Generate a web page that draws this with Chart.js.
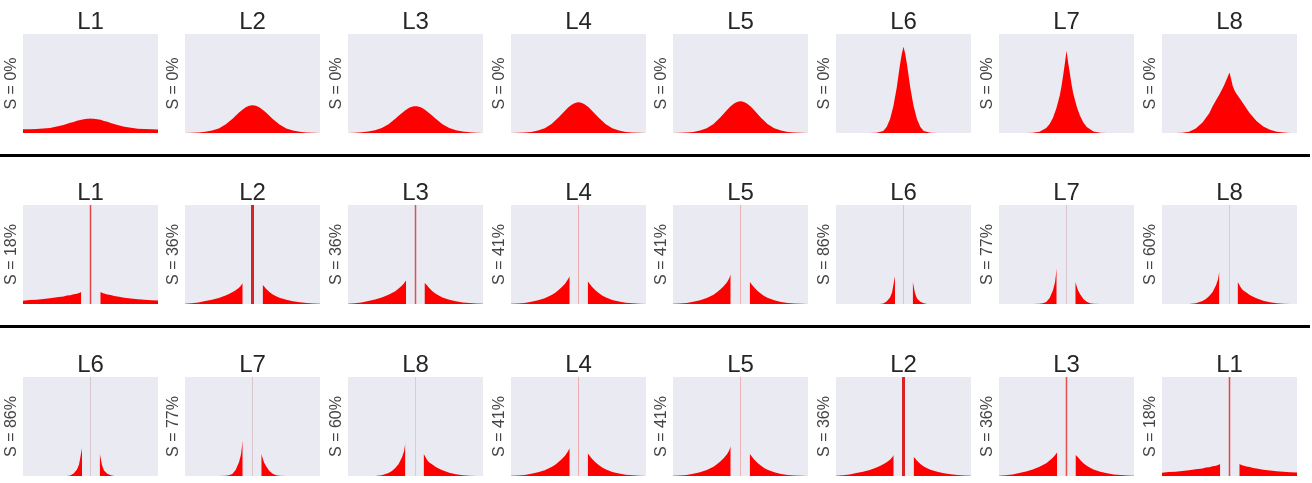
<!DOCTYPE html>
<html>
<head>
<meta charset="utf-8">
<script src="https://cdn.jsdelivr.net/npm/chart.js@4/dist/chart.umd.min.js"></script>
<style>
  body { margin: 0; background: #fff; }
  #page { position: relative; width: 1312px; height: 483px; overflow: hidden; background: #fff; }
  .panel { position: absolute; }
  .rule { position: absolute; left: 0; width: 1310px; height: 3px; background: #000; }
</style>
</head>
<body>
<div id="page">
  <div class="rule" style="top:154px"></div>
  <div class="rule" style="top:325px"></div>
</div>
<script>
// histogram bins, top row (no pruning)
const topX = [-1, -0.9, -0.8, -0.7, -0.6, -0.5, -0.4, -0.3, -0.25, -0.2, -0.15, -0.1, -0.075, -0.05, -0.025,
  0, 0.025, 0.05, 0.075, 0.1, 0.15, 0.2, 0.25, 0.3, 0.4, 0.5, 0.6, 0.7, 0.8, 0.9, 1];

const topL1 = [.037, .039, .041, .045, .051, .065, .080, .104, .112, .124, .131, .140, .141, .144, .143,
  .147, .144, .143, .141, .138, .133, .122, .114, .102, .082, .063, .053, .043, .041, .037, .036];
const topL2 = [.001, .003, .006, .012, .024, .046, .085, .141, .174, .206, .236, .260, .268, .275, .279,
  .280, .279, .275, .268, .260, .236, .206, .174, .141, .085, .046, .024, .012, .006, .003, .001];
const topL3 = [.001, .003, .007, .014, .027, .050, .088, .143, .173, .203, .230, .252, .259, .265, .269,
  .270, .269, .265, .259, .252, .230, .203, .173, .143, .088, .050, .027, .014, .007, .003, .001];
const topL4 = [.001, .002, .005, .011, .024, .048, .090, .153, .190, .226, .259, .286, .296, .304, .309,
  .310, .309, .304, .296, .286, .259, .226, .190, .153, .090, .048, .024, .011, .005, .002, .001];
const topL5 = [.001, .002, .005, .011, .024, .049, .092, .157, .195, .233, .267, .295, .306, .314, .319,
  .320, .319, .314, .306, .295, .267, .233, .195, .157, .092, .049, .024, .011, .005, .002, .001];
const topL6 = [0, 0, 0, 0, 0, 0, .003, .020, .060, .140, .270, .460, .580, .700, .800,
  .870, .800, .700, .580, .460, .270, .140, .060, .020, .003, 0, 0, 0, 0, 0, 0];
const topL7 = [0, 0, 0, 0, 0, .002, .012, .050, .090, .155, .250, .380, .470, .580, .700,
  .830, .710, .600, .490, .400, .270, .175, .105, .060, .015, .003, 0, 0, 0, 0, 0];
const topL8 = [0, 0, 0, .002, .012, .045, .105, .200, .270, .330, .390, .455, .490, .530, .570,
  .610, .540, .470, .430, .400, .350, .300, .250, .200, .120, .065, .032, .013, .004, .001, 0];

// pruned histograms (gap around zero, null = gap)
const cutX_L1 = [-1, -.9, -.8, -.7, -.6, -.5, -.4, -.35, -.3, -.25, -.2, -.17, -.137, 0, .145, .17, .2, .25, .3, .35, .4, .5, .6, .7, .8, .9, 1];
const cutY_L1 = [.034, .041, .044, .051, .057, .068, .077, .086, .089, .098, .104, .112, .120, null, .121, .113, .107, .097, .092, .082, .077, .064, .056, .047, .043, .037, .035];
const cutX_L2 = [-1, -.9, -.8, -.7, -.6, -.5, -.4, -.35, -.3, -.25, -.2, -.17, -.145, 0, .15, .17, .2, .25, .3, .35, .4, .5, .6, .7, .8, .9, 1];
const cutY_L2 = [.003, .008, .016, .030, .044, .060, .085, .100, .118, .140, .165, .188, .212, null, .195, .180, .155, .120, .095, .078, .063, .042, .027, .017, .010, .005, .002];
const cutX_L3 = [-1, -.9, -.8, -.7, -.6, -.5, -.4, -.35, -.3, -.25, -.2, -.17, -.138, 0, .133, .17, .2, .25, .3, .35, .4, .5, .6, .7, .8, .9, 1];
const cutY_L3 = [.003, .008, .016, .030, .046, .065, .093, .110, .130, .156, .186, .210, .240, null, .215, .190, .165, .130, .103, .083, .066, .043, .027, .016, .009, .004, .002];
const cutX_L4 = [-1, -.9, -.8, -.7, -.6, -.5, -.4, -.35, -.3, -.25, -.2, -.17, -.13, 0, .136, .17, .2, .25, .3, .35, .4, .5, .6, .7, .8, .9, 1];
const cutY_L4 = [.002, .005, .011, .022, .038, .058, .090, .112, .138, .168, .205, .235, .280, null, .230, .200, .175, .140, .110, .087, .068, .041, .024, .013, .007, .003, .001];
const cutX_L5 = [-1, -.9, -.8, -.7, -.6, -.5, -.4, -.35, -.3, -.25, -.2, -.17, -.145, 0, .136, .17, .2, .25, .3, .35, .4, .5, .6, .7, .8, .9, 1];
const cutY_L5 = [.002, .005, .011, .022, .038, .060, .094, .118, .146, .180, .220, .255, .300, null, .225, .195, .170, .135, .105, .082, .063, .037, .021, .011, .005, .002, .001];
const cutX_L6 = [-1, -.9, -.8, -.7, -.6, -.5, -.4, -.35, -.3, -.25, -.2, -.17, -.126, 0, .136, .17, .2, .25, .3, .35, .4, .5, .6, .7, .8, .9, 1];
const cutY_L6 = [0, 0, 0, 0, 0, 0, 0, 0, .005, .025, .065, .115, .280, null, .230, .110, .055, .022, .007, 0, 0, 0, 0, 0, 0, 0, 0];
const cutX_L7 = [-1, -.9, -.8, -.7, -.6, -.5, -.4, -.35, -.3, -.25, -.2, -.17, -.145, 0, .13, .17, .2, .25, .3, .35, .4, .5, .6, .7, .8, .9, 1];
const cutY_L7 = [0, 0, 0, 0, 0, 0, .003, .008, .020, .060, .140, .220, .360, null, .225, .140, .100, .050, .022, .008, .002, 0, 0, 0, 0, 0, 0];
const cutX_L8 = [-1, -.9, -.8, -.7, -.6, -.5, -.4, -.35, -.3, -.25, -.2, -.17, -.15, 0, .12, .17, .2, .25, .3, .35, .4, .5, .6, .7, .8, .9, 1];
const cutY_L8 = [0, 0, 0, 0, 0, .008, .030, .050, .080, .120, .190, .250, .335, null, .225, .165, .140, .115, .092, .074, .058, .034, .018, .007, .002, 0, 0];

// zero bin, clipped at the top of every pruned panel
const spikeX = [0, 0];
const spikeY = [0, 1.5];

const names = ['L1', 'L2', 'L3', 'L4', 'L5', 'L6', 'L7', 'L8'];
const sparsity = ['S = 18%', 'S = 36%', 'S = 36%', 'S = 41%', 'S = 41%', 'S = 86%', 'S = 77%', 'S = 60%'];
const bottomOrder = [5, 6, 7, 3, 4, 1, 2, 0];

const topSeries = [topL1, topL2, topL3, topL4, topL5, topL6, topL7, topL8];
const cutXs = [cutX_L1, cutX_L2, cutX_L3, cutX_L4, cutX_L5, cutX_L6, cutX_L7, cutX_L8];
const cutYs = [cutY_L1, cutY_L2, cutY_L3, cutY_L4, cutY_L5, cutY_L6, cutY_L7, cutY_L8];

// look of the zero spike
const spikeColor = ['rgba(228,40,40,0.85)', 'rgba(215,25,25,0.95)', 'rgba(228,40,40,0.8)', 'rgba(240,130,130,0.6)',
  'rgba(240,130,130,0.55)', 'rgba(205,175,180,0.6)', 'rgba(205,175,180,0.6)', 'rgba(240,160,160,0.5)'];
const spikeWidth = [1.5, 3, 1.5, 1, 1, 1, 1, 1];

const colLeft = [23, 185, 348, 511, 673, 836, 999, 1162];
const rowTop = [34, 205, 377];
const plotW = 135, plotH = 99, axisW = 22, titleH = 28;
const FONT = "'Liberation Sans', Arial, sans-serif";

const panelBg = {
  id: 'panelBg',
  beforeDraw(chart) {
    const { ctx, chartArea: a } = chart;
    ctx.save();
    ctx.fillStyle = '#EAEAF2';
    ctx.fillRect(a.left, a.top, a.right - a.left, a.bottom - a.top);
    ctx.restore();
  }
};

function toPoints(xs, ys) {
  return xs.map((x, i) => ({ x: x, y: ys[i] }));
}

function makePanel(left, top, title, label, xs, ys, spike) {
  const wrap = document.createElement('div');
  wrap.className = 'panel';
  wrap.style.left = (left - axisW) + 'px';
  wrap.style.top = (top - titleH) + 'px';
  const canvas = document.createElement('canvas');
  canvas.width = axisW + plotW;
  canvas.height = titleH + plotH;
  wrap.appendChild(canvas);
  document.getElementById('page').appendChild(wrap);

  const datasets = [{
    data: toPoints(xs, ys),
    fill: 'origin',
    backgroundColor: '#ff0000',
    borderColor: 'rgba(0,0,0,0)',
    borderWidth: 0,
    tension: 0,
    spanGaps: false
  }];
  if (spike) {
    datasets.push({
      data: toPoints(spikeX, spikeY),
      fill: false,
      borderColor: spike.color,
      borderWidth: spike.width,
      borderCapStyle: 'butt'
    });
  }

  new Chart(canvas, {
    type: 'line',
    data: { datasets: datasets },
    options: {
      responsive: false,
      animation: false,
      devicePixelRatio: 1,
      layout: { padding: 0 },
      elements: { point: { radius: 0 } },
      plugins: {
        legend: { display: false },
        tooltip: { enabled: false },
        title: {
          display: true,
          fullSize: false,
          text: title,
          color: '#262626',
          font: { family: FONT, size: 24, weight: 'normal', lineHeight: '23px' },
          padding: { top: 5, bottom: 0 }
        }
      },
      scales: {
        x: { type: 'linear', min: -1, max: 1, display: false },
        y: {
          min: 0, max: 1,
          grid: { display: false, drawTicks: false },
          border: { display: false },
          ticks: { display: false },
          title: {
            display: true,
            text: label,
            color: '#444',
            font: { family: FONT, size: 16, lineHeight: '20px' },
            padding: { top: 0.8, bottom: 1.2 }
          }
        }
      }
    },
    plugins: [panelBg]
  });
}

// row 1: unpruned
names.forEach((n, i) => {
  makePanel(colLeft[i], rowTop[0], n, 'S = 0%', topX, topSeries[i], null);
});
// row 2: pruned, same order
names.forEach((n, i) => {
  makePanel(colLeft[i], rowTop[1], n, sparsity[i], cutXs[i], cutYs[i], { color: spikeColor[i], width: spikeWidth[i] });
});
// row 3: pruned, reordered by sparsity
bottomOrder.forEach((k, i) => {
  makePanel(colLeft[i], rowTop[2], names[k], sparsity[k], cutXs[k], cutYs[k], { color: spikeColor[k], width: spikeWidth[k] });
});
</script>
</body>
</html>
